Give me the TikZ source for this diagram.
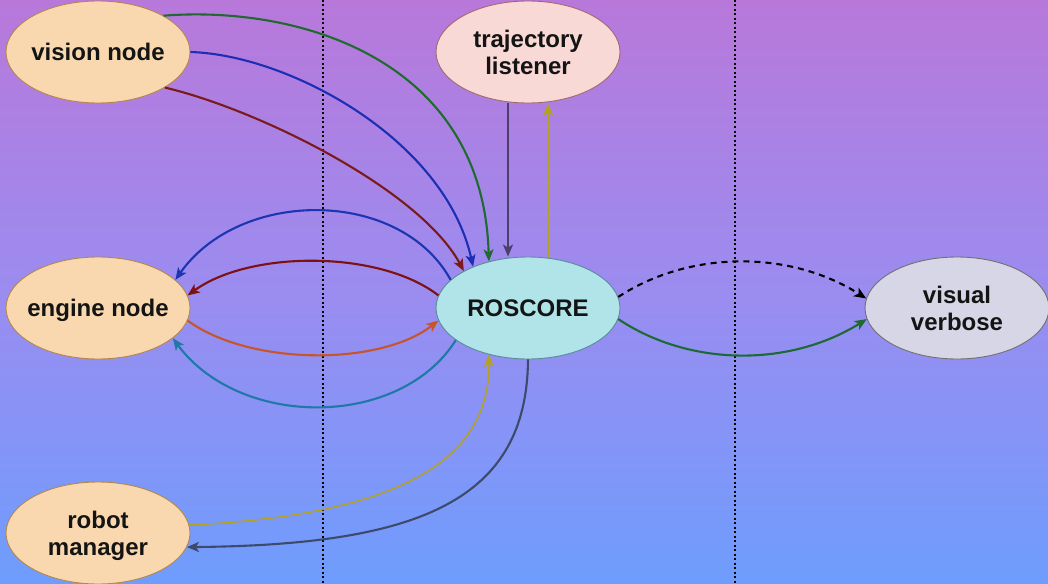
\documentclass[tikz,border=0pt]{standalone}
\usepackage{fontspec}
\setmainfont{Liberation Sans}
\usetikzlibrary{shapes.geometric,arrows.meta}
\definecolor{bgtop}{HTML}{B878DA}
\definecolor{bgmid}{HTML}{9B8CF0}
\definecolor{bgbot}{HTML}{6E9DFD}
\definecolor{peach}{HTML}{F9D8B0}
\definecolor{peachb}{HTML}{B4874A}
\definecolor{pinkf}{HTML}{F8D9D6}
\definecolor{pinkb}{HTML}{A06A70}
\definecolor{cyanf}{HTML}{B0E4E8}
\definecolor{cyanb}{HTML}{5C8A9A}
\definecolor{grayf}{HTML}{D6D6E6}
\definecolor{grayb}{HTML}{707070}
\definecolor{cgreenA}{HTML}{1F6B2E}
\definecolor{cblueA}{HTML}{1B2FB5}
\definecolor{credA}{HTML}{7A1B1B}
\definecolor{cpurp}{HTML}{4B3F6B}
\definecolor{cyell}{HTML}{B5A120}
\definecolor{cblueB}{HTML}{1C35B0}
\definecolor{credB}{HTML}{7D1010}
\definecolor{corange}{HTML}{C7552B}
\definecolor{cteal}{HTML}{1F78A5}
\definecolor{cslate}{HTML}{3D4A6B}
\definecolor{cgreenB}{HTML}{1D6A33}
\newcommand{\lbl}[1]{\raisebox{-9.4pt}[0pt][0pt]{\makebox[0pt]{\begin{tabular}{@{}c@{}}#1\end{tabular}}}}
\tikzset{
  nd/.style={ellipse, minimum width=184pt, minimum height=102pt, inner sep=0pt,
    line width=0.9pt, font=\fontsize{24}{27}\selectfont\bfseries, text=black!92},
  peachnode/.style={nd, fill=peach, draw=peachb},
  conn/.style={line width=2.1pt, -{Stealth[length=12pt,width=10pt,inset=3pt]}},
  thinconn/.style={conn, line width=1.5pt},
  vline/.style={line width=1.2pt, dash pattern=on 2pt off 2.5pt, black},
}
\begin{document}
\begin{tikzpicture}[x=1pt,y=-1pt]
\useasboundingbox (0,0) rectangle (1048,583);
\shade[top color=bgtop, bottom color=bgbot, middle color=bgmid] (0,0) rectangle (1048,583);
\draw[vline] (323,0) -- (323,583);
\draw[vline] (735,0) -- (735,583);

\node[peachnode] (vision) at (98,52) {\lbl{vision node}};
\node[nd, fill=pinkf, draw=pinkb] (traj) at (528,52) {\lbl{trajectory\\listener}};
\node[peachnode] (engine) at (98,308) {\lbl{engine node}};
\node[nd, fill=cyanf, draw=cyanb] (ros) at (528,308) {\lbl{ROSCORE}};
\node[nd, fill=grayf, draw=grayb] (visual) at (957,308) {\lbl{visual\\verbose}};
\node[peachnode] (robot) at (98,533) {\lbl{robot\\manager}};

% vision -> roscore
\draw[conn, cgreenA] (vision.29) .. controls (300,5) and (483,60) .. (ros.130);
\draw[conn, cblueA] (vision.east) .. controls (290,55) and (445,140) .. (ros.143);
\draw[conn, credA] (vision.-28) .. controls (260,110) and (420,190) .. (ros.150);
% trajectory <-> roscore
\draw[conn, cpurp] (traj.south -| 508,0) -- (ros.north -| 508,0);
\draw[thinconn, cyell] (ros.north -| 548,0) -- (traj.south -| 548,0);
% roscore <-> engine
\draw[conn, cblueB] (ros.160) .. controls (400,188) and (240,188) .. (engine.20);
\draw[conn, credB] (ros.172) .. controls (380,250) and (250,250) .. (engine.8);
\draw[conn, corange] (engine.-8) .. controls (250,366) and (380,366) .. (ros.188);
\draw[conn, cteal] (ros.204) .. controls (400,429) and (240,429) .. (engine.-22);
% robot <-> roscore
\draw[thinconn, cyell] (robot.5) .. controls (400,515) and (490,460) .. (ros.230);
\draw[conn, cslate] (ros.south) .. controls (527,500) and (420,545) .. (robot.-9);
% roscore -> visual
\draw[conn, black, dash pattern=on 6pt off 5pt] (ros.7) .. controls (690,250) and (790,250) .. (visual.174);
\draw[conn, cgreenB] (ros.353) .. controls (690,367) and (790,367) .. (visual.187);
\end{tikzpicture}
\end{document}
